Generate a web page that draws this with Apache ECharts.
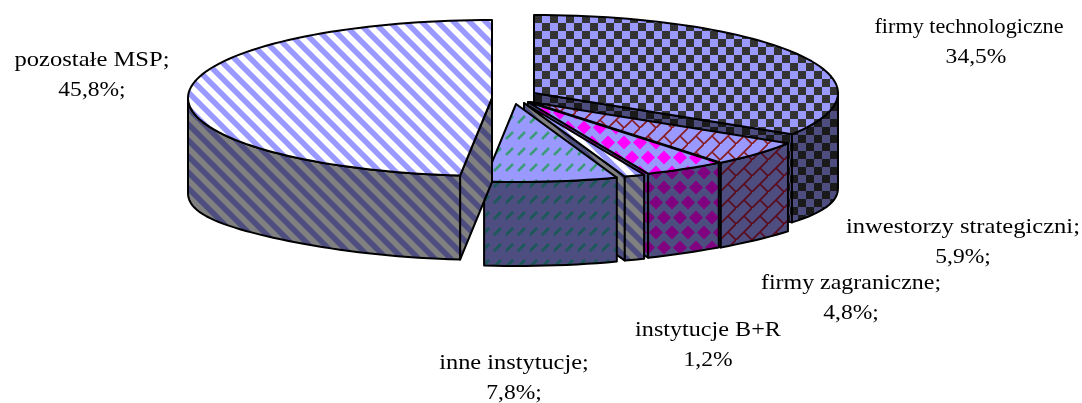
<!DOCTYPE html>
<html><head><meta charset="utf-8">
<style>html,body{margin:0;padding:0;background:#fff}#c{width:1082px;height:403px}</style>
<script src="https://cdn.jsdelivr.net/npm/echarts@6/dist/echarts.min.js"></script>
</head><body><div id="c"></div>
<script>
// ---- data ----
const categories = ['firmy technologiczne','inwestorzy strategiczni','firmy zagraniczne','instytucje B+R','inne instytucje','pozostałe MSP'];
const shares = [34.5,5.9,4.8,1.2,7.8,45.8];
const nameLabels = ['firmy technologiczne','inwestorzy strategiczni;','firmy zagraniczne;','instytucje B+R','inne instytucje;','pozostałe MSP;'];
const valueLabels = ['34,5%','5,9%;','4,8%;','1,2%','7,8%;','45,8%;'];

// ---- layout / style ----
const centre = [512,98], radiusX = 304, radiusY = 78;
const explode = [[22,-5],[18,4],[16,4],[12,5],[4,6],[-20,0]];
const labelPos = [[969,27],[963,227],[851,283],[708,330],[514,363],[92,60]];
const valueX = [976,963,851,708,514,92];
const labelStretch = [1.056,1.17,1.14,1.15,1.16,1.17];
const lineGap = 30, labelFont = '21px "Liberation Serif","Times New Roman",serif';
const depthFront = 84, depthSide = 11;

function tile(w,h,draw){
  const c=document.createElement('canvas');c.width=w;c.height=h;
  draw(c.getContext('2d'),w,h);
  return {image:c,repeat:'repeat'};
}
function checker(bg,fg){return tile(16,16,(g)=>{
  g.fillStyle=bg;g.fillRect(0,0,16,16);g.fillStyle=fg;
  for(const [x,y] of [[14,7],[6,15]]) for(const dx of [-16,0]) for(const dy of [-16,0]) g.fillRect(x+dx,y+dy,8,8);
});}
function brick(bg,fg){return tile(16,16,(g)=>{
  g.fillStyle=bg;g.fillRect(0,0,16,16);g.strokeStyle=fg;g.lineWidth=1.6;
  g.beginPath();
  g.moveTo(-2,18);g.lineTo(18,-2);
  g.moveTo(8,8);g.lineTo(16,16);
  g.stroke();
});}
function diamonds(bg,fg){return tile(16,30,(g)=>{
  g.fillStyle=bg;g.fillRect(0,0,16,30);g.fillStyle=fg;
  for(const [cx,cy] of [[8,7.5],[0,22.5],[16,22.5]]){
    g.beginPath();g.moveTo(cx-7,cy);g.lineTo(cx,cy-7);g.lineTo(cx+7,cy);g.lineTo(cx,cy+7);g.closePath();g.fill();
  }
});}
function stripes(bg,fg){return tile(16,16,(g)=>{
  g.fillStyle=bg;g.fillRect(0,0,16,16);g.strokeStyle=fg;g.lineWidth=5.5;
  g.beginPath();
  for(const o of [-16,0,16]){g.moveTo(o-4,-4);g.lineTo(o+20,20);}
  g.stroke();
});}
function dashes(bg,fg){return tile(12,16,(g)=>{
  g.fillStyle=bg;g.fillRect(0,0,12,16);g.strokeStyle=fg;g.lineWidth=2.5;
  g.beginPath();g.moveTo(2,11);g.lineTo(9,4);g.stroke();
});}
const PERI='#9999ff', PERID='#4d4d80';
const topFill = [
  checker(PERI,'#333333'), brick(PERI,'#8a1a1a'), diamonds(PERI,'#ff00ff'),
  stripes('#ffffff',PERI), dashes(PERI,'#3d9a7a'), stripes('#ffffff',PERI)
];
const wallFill = [
  checker(PERID,'#1a1a1a'), brick(PERID,'#5c0a1a'), diamonds(PERID,'#800080'),
  stripes('#808080',PERID), dashes(PERID,'#1a5a58'), stripes('#808080',PERID)
];

// screen-angle correction of the tilted pie
function warp(t){
  if(t<=101) return t;
  if(t<=195) return t-0.097*(t-101);
  return t-9.1*(360-t)/165;
}
function rad(d){return d*Math.PI/180;}
function pt(a,d){return [a[0]+radiusX*Math.sin(rad(d)), a[1]-radiusY*Math.cos(rad(d))];}
function depthAt(d){return depthFront+depthSide*Math.pow(Math.abs(Math.sin(rad(d))),6);}
function arc(a,s,e,drop){
  const out=[],n=Math.max(2,Math.ceil((e-s)/2));
  for(let i=0;i<=n;i++){
    const d=s+(e-s)*i/n,p=pt(a,d);
    out.push([p[0],p[1]+(drop?depthAt(d):0)]);
  }
  return out;
}
const edge={stroke:'#000',lineWidth:2,lineJoin:'round'};
function label(text,x,y,sx){
  return {type:'text',x:x,y:y,scaleX:sx,style:{text:text,x:0,y:0,font:labelFont,fill:'#000',textAlign:'center',textVerticalAlign:'middle'}};
}
function renderItem(params,api){
  const i=params.dataIndex, total=shares.reduce((x,y)=>x+y,0);
  let before=0; for(let k=0;k<i;k++) before+=shares[k];
  const s=warp(before/total*360), e=warp((before+api.value(0))/total*360);
  const a=[centre[0]+explode[i][0],centre[1]+explode[i][1]];
  const children=[];
  const face=(d)=>{
    const p=pt(a,d),h=depthAt(d);
    children.push({type:'polygon',shape:{points:[a,p,[p[0],p[1]+h],[a[0],a[1]+h]]},style:Object.assign({fill:wallFill[i]},edge)});
  };
  if(e<180) face(e);
  if(s>180) face(s);
  const ws=Math.max(s,90),we=Math.min(e,270);
  if(we>ws){
    children.push({type:'polygon',shape:{points:arc(a,ws,we,false).concat(arc(a,ws,we,true).reverse())},style:Object.assign({fill:wallFill[i]},edge)});
  }
  children.push({type:'polygon',shape:{points:[a].concat(arc(a,s,e,false))},style:Object.assign({fill:topFill[i]},edge)});
  children.push(label(nameLabels[i],labelPos[i][0],labelPos[i][1],labelStretch[i]));
  children.push(label(valueLabels[i],valueX[i],labelPos[i][1]+lineGap,1.12));
  return {type:'group',children};
}
const chart=echarts.init(document.getElementById('c'),null,{renderer:'canvas',width:1082,height:403});
chart.setOption({
  animation:false,
  backgroundColor:'#fff',
  series:[{type:'custom',coordinateSystem:'none',silent:true,renderItem,data:shares.map((v,i)=>({name:categories[i],value:[v]})),encode:{value:0}}]
});
</script></body></html>
